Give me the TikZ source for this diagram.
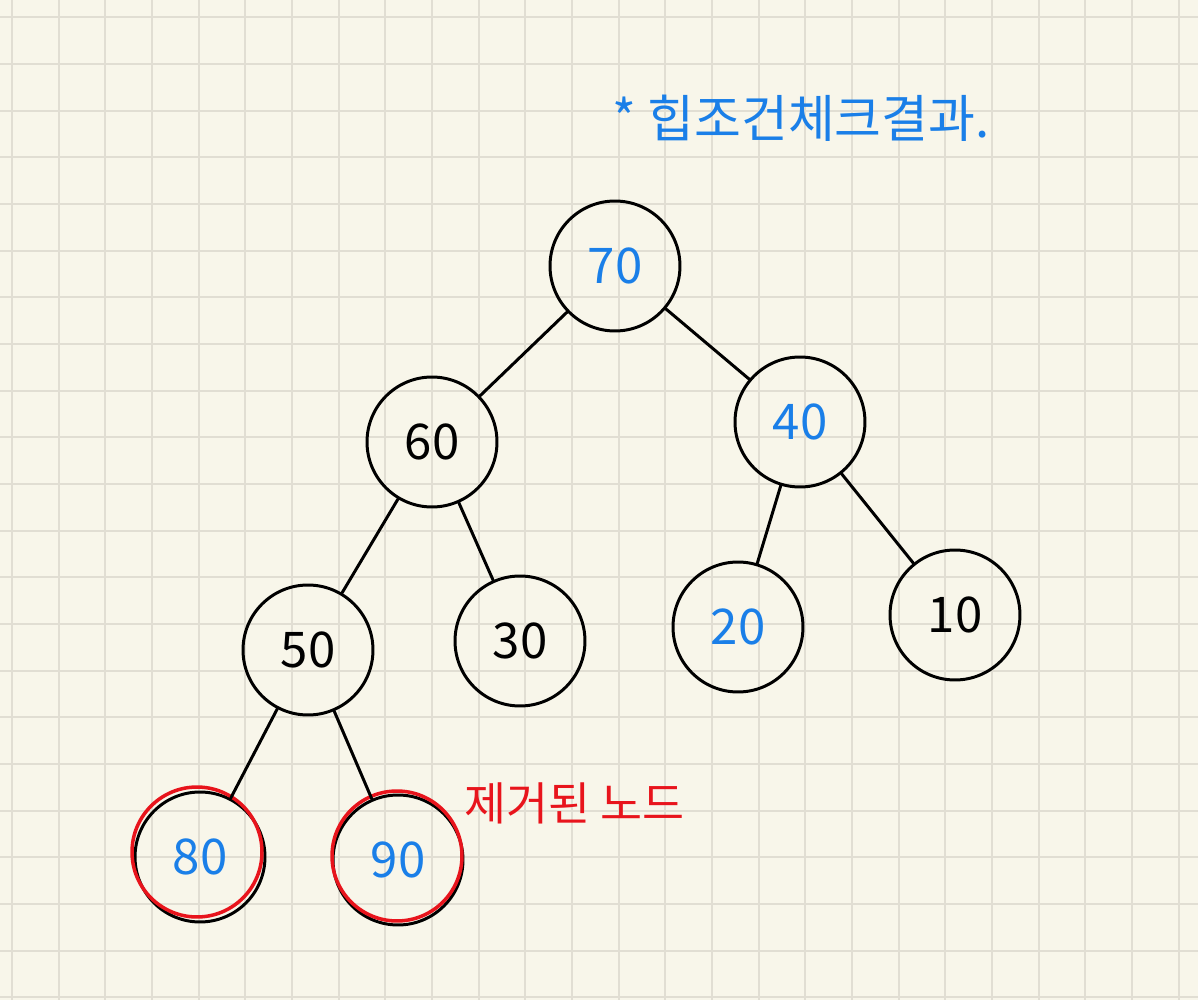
\documentclass[tikz,border=0pt]{standalone}
\usepackage{fontspec}
\newfontfamily\kr{Noto Sans CJK KR}
\definecolor{paper}{HTML}{F8F6EA}
\definecolor{gridc}{HTML}{E1DED3}
\definecolor{inkblue}{HTML}{1A7FE8}
\definecolor{inkred}{HTML}{E8141C}

\tikzset{
  heapnode/.style={draw, circle, line width=1.7pt, minimum size=2.6cm, inner sep=0pt,
    font=\kr\fontsize{28}{30}\selectfont},
  removed/.style={heapnode, draw=inkred, line width=2pt},
  heapedge/.style={line width=1.7pt, line cap=round},
  gridline/.style={gridc, line width=1.2pt}
}

\begin{document}
\begin{tikzpicture}[x=0.02cm, y=-0.02cm]
  \useasboundingbox (0,0) rectangle (1198,1000);
  \fill[paper] (0,0) rectangle (1198,1000);
  \foreach \i in {0,...,25}
    \draw[gridline] ({12+46.67*\i},0) -- ({12+46.67*\i},1000);
  \foreach \j in {0,...,21}
    \draw[gridline] (0,{17.3+46.67*\j}) -- (1198,{17.3+46.67*\j});

  % heap after removal
  \node[heapnode, text=inkblue] (n70) at (615,266) {70};
  \node[heapnode] (n60) at (432,442) {60};
  \node[heapnode, text=inkblue] (n40) at (800,422) {40};
  \node[heapnode] (n50) at (308,650) {50};
  \node[heapnode] (n30) at (520,641) {30};
  \node[heapnode, text=inkblue] (n20) at (738,627) {20};
  \node[heapnode] (n10) at (955,615) {10};
  \node[heapnode, text=inkblue] (n80) at (200,857) {80};
  \node[heapnode, text=inkblue] (n90) at (398,860) {90};
  \node[removed] (r80) at (197,852) {};
  \node[removed] (r90) at (397,856) {};

  \draw[heapedge] (n70) -- (n60);
  \draw[heapedge] (n70) -- (n40);
  \draw[heapedge] (n60) -- (n50);
  \draw[heapedge] (n60) -- (n30);
  \draw[heapedge] (n40) -- (n20);
  \draw[heapedge] (n40) -- (n10);
  \draw[heapedge] (n50) -- (n80);
  \draw[heapedge] (n50) -- (n90);

  \node[inkred, font=\kr\fontsize{26}{28}\selectfont, anchor=west] (gone) at (458,803) {제거된 노드};
  \node[inkblue, font=\kr\fontsize{29}{31}\selectfont, anchor=west] (title) at (606,118) {* 힙조건체크결과.};
\end{tikzpicture}
\end{document}
